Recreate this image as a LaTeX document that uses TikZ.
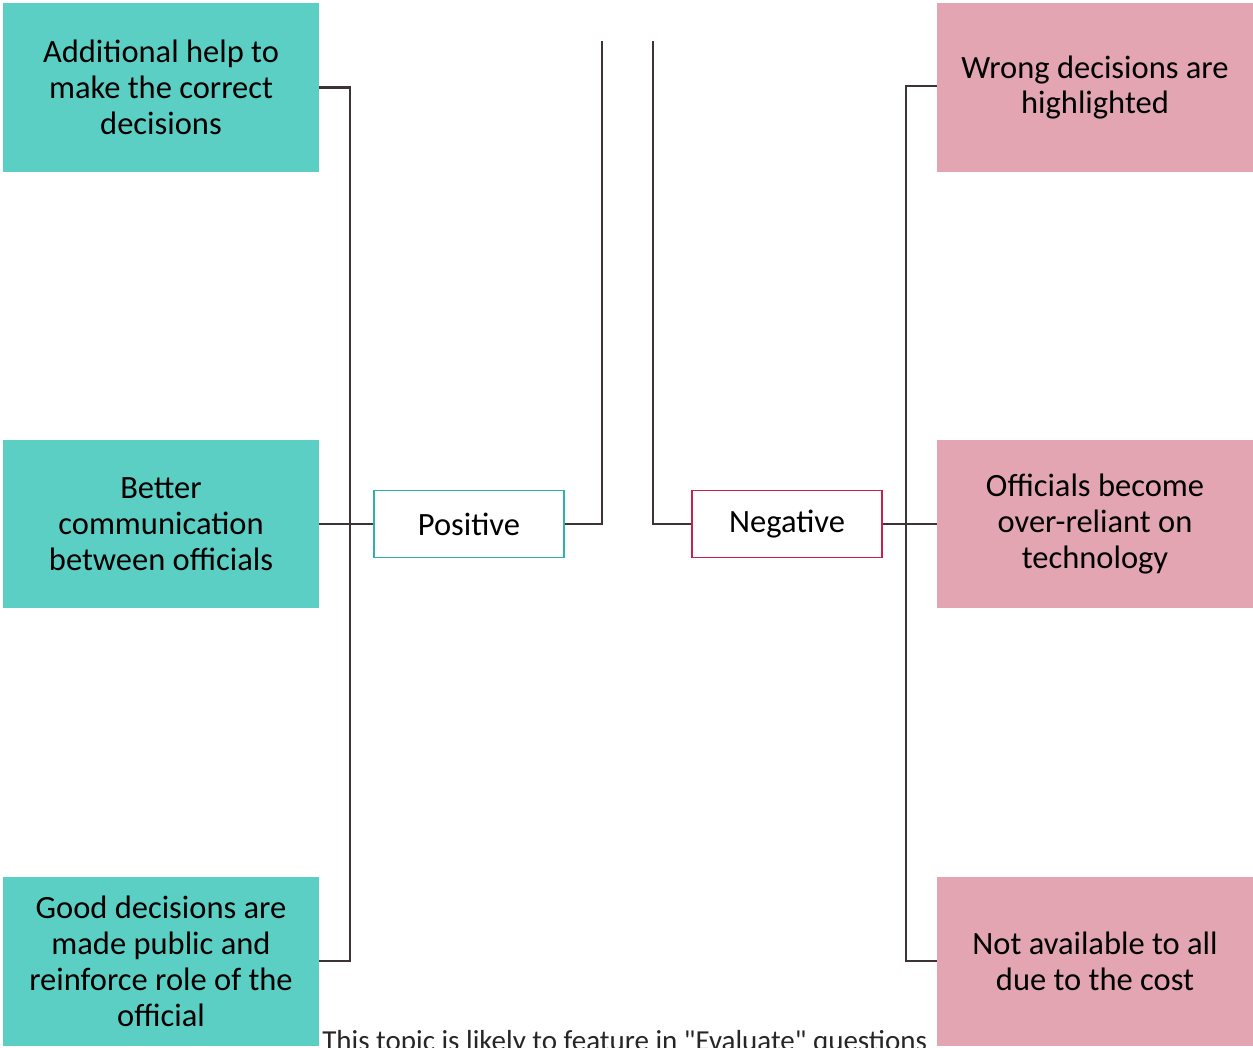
\documentclass[tikz,border=0pt]{standalone}
\usepackage{fontspec}
\setmainfont{Carlito}
\usetikzlibrary{positioning,calc}
\definecolor{evTeal}{HTML}{5BCFC3}
\definecolor{evTealDk}{HTML}{2DB3A5}
\definecolor{evPink}{HTML}{E3A5B2}
\definecolor{evRed}{HTML}{C8214A}
\definecolor{evLine}{HTML}{3E3238}

\begin{document}
\begin{tikzpicture}[x=0.02cm, y=-0.02cm,
  pro/.style={fill=evTeal, minimum width=6.32cm, minimum height=3.38cm, inner sep=0pt, align=center, font=\fontsize{18.5}{20.4}\selectfont},
  con/.style={pro, fill=evPink},
  head/.style={draw=#1, line width=1.1pt, fill=white, minimum width=3.8cm, minimum height=1.34cm, inner sep=0pt, font=\fontsize{18.5}{20.4}\selectfont},
  lnk/.style={evLine, line width=1.2pt}]
\useasboundingbox (0,0) rectangle (1253,1047);
% -- positive side
\node[pro] (p1) at (161,87.5) {Additional help to\\make the correct\\decisions};
\node[pro] (p2) at (161,524) {Better\\communication\\between officials};
\node[pro] (p3) at (161,961.5) {Good decisions are\\made public and\\reinforce role of the\\official};
\node[head=evTealDk] (pos) at (469,524) {Positive};
% -- negative side
\node[con] (n1) at (1095,87.5) {Wrong decisions are\\highlighted};
\node[con] (n2) at (1095,524) {Officials become\\over-reliant on\\technology};
\node[con] (n3) at (1095,961.5) {Not available to all\\due to the cost};
\node[head=evRed] (neg) at (787,524) {Negative};
% -- open ends at the top
\coordinate (posTop) at (602,41);
\coordinate (negTop) at (653,41);
% -- connectors
\draw[lnk] (p1.east) -| (350,961) -- (p3.east |- 0,961);
\draw[lnk] (p2.east) -- (pos.west);
\draw[lnk] (pos.east) -| (posTop);
\draw[lnk] (neg.west) -| (negTop);
\draw[lnk] (n1.west |- 0,86) -| (906,961) -- (n3.west |- 0,961);
\draw[lnk] (neg.east) -- (n2.west);
\node[anchor=north west, inner sep=0pt, font=\fontsize{16.5}{20}\selectfont, text=black!85] (note) at (322,1030) {This topic is likely to feature in \textquotedbl Evaluate\textquotedbl{} questions};
\end{tikzpicture}
\end{document}
